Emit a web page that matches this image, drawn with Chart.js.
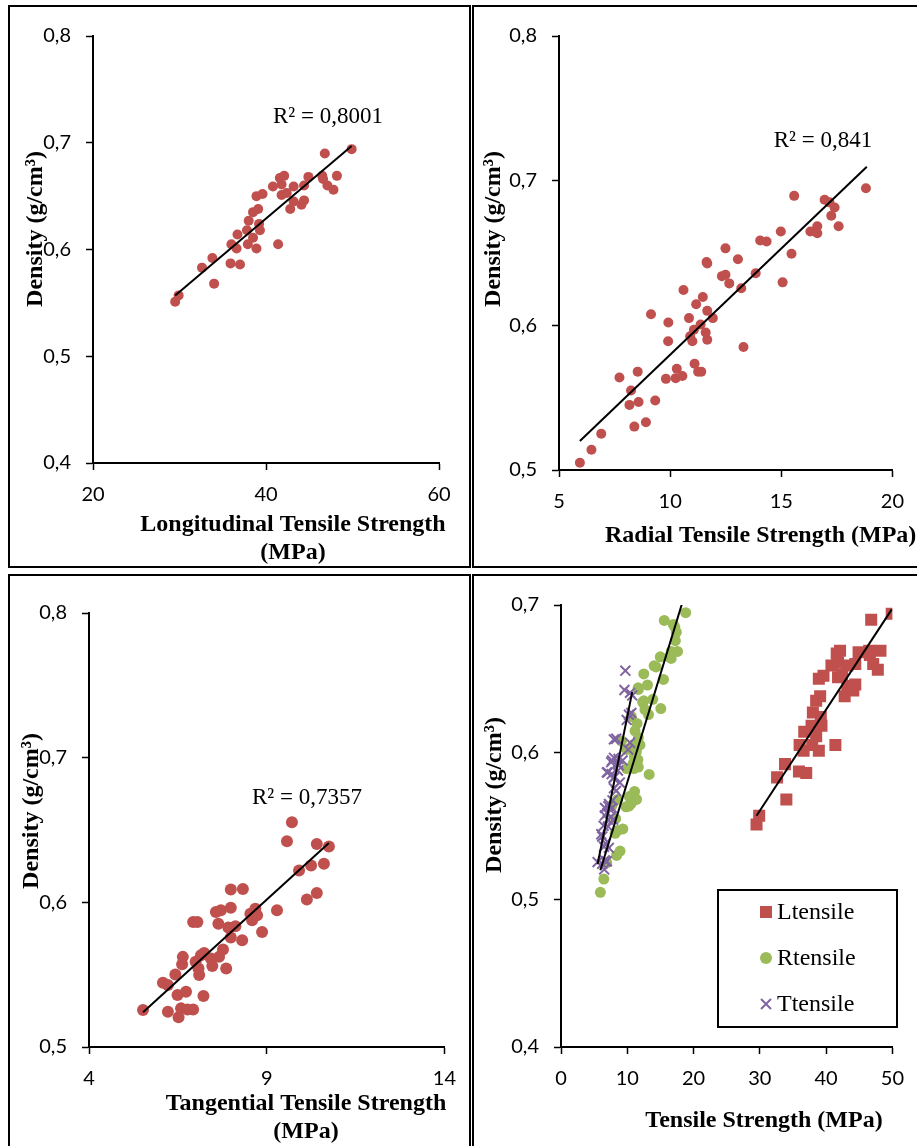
<!DOCTYPE html>
<html lang="en">
<head>
    <meta charset="UTF-8" />
    <title>Density vs Tensile Strength</title>
    <script src="https://cdn.jsdelivr.net/npm/chart.js"></script>
    <style>
        body {
          margin: 0;
          background: #fff;
        }

        #page {
          position: relative;
          width: 917px;
          height: 1146px;
          overflow: hidden;
        }

        .panel {
          position: absolute;
          border: 2px solid #000;
          box-sizing: border-box;
        }

        canvas {
          position: absolute;
        }
    </style>
</head>
<body>

<div id="page">
    <div class="panel" style="left:8px;top:5px;width:463px;height:563px"></div>
    <div class="panel" style="left:472px;top:5px;width:460px;height:563px"></div>
    <div class="panel" style="left:8px;top:574px;width:463px;height:590px"></div>
    <div class="panel" style="left:472px;top:574px;width:460px;height:590px"></div>

    <canvas id="chartL" width="459" height="557" style="left:10px;top:9px"></canvas>
    <canvas id="chartR" width="442" height="557" style="left:475px;top:9px"></canvas>
    <canvas id="chartT" width="459" height="570" style="left:10px;top:576px"></canvas>
    <canvas id="chartAll" width="442" height="570" style="left:475px;top:576px"></canvas>
</div>

<script>
    // Longitudinal tensile strength (MPa) vs density (g/cm3)
    const lStrength = [29.5, 29.9, 32.6, 33.8, 34.0, 35.9, 37.0, 36.0, 36.6, 36.7,
      37.9, 37.8, 38.0, 38.5, 38.9, 38.5, 39.1, 39.2, 39.3, 38.9,
      39.6, 41.4, 40.8, 41.6, 42.1, 41.8, 41.8, 42.4, 43.2, 42.8,
      43.2, 44.1, 44.4, 44.4, 44.9, 46.5, 46.6, 47.1, 47.8, 48.2,
      46.8, 49.9];
    const lDensity = [0.551, 0.557, 0.583, 0.592, 0.568, 0.587, 0.586, 0.605, 0.601, 0.614,
      0.605, 0.618, 0.627, 0.611, 0.601, 0.635, 0.638, 0.624, 0.618, 0.650,
      0.652, 0.605, 0.659, 0.667, 0.669, 0.661, 0.651, 0.653, 0.659, 0.638,
      0.645, 0.642, 0.646, 0.660, 0.668, 0.669, 0.666, 0.660, 0.656, 0.669,
      0.690, 0.694];

    // Radial
    const rStrength = [5.94, 6.46, 6.9, 8.39, 8.91, 8.17, 8.58, 9.33, 8.24, 7.72,
      8.54, 9.81, 10.25, 10.55, 10.3, 11.1, 11.26, 11.4, 13.3, 9.91,
      11.0, 11.67, 11.6, 10.9, 11.07, 11.37, 11.92, 10.85, 9.92, 9.14,
      11.67, 11.17, 11.47, 10.6, 13.2, 12.66, 12.33, 12.49, 13.85, 15.06,
      11.64, 11.67, 13.05, 12.49, 15.46, 14.05, 14.34, 14.98, 16.31, 16.62,
      16.62, 17.58, 17.25, 17.4, 16.95, 17.17, 15.58, 18.81];
    const rDensity = [0.505, 0.514, 0.525, 0.530, 0.533, 0.545, 0.547, 0.548, 0.555, 0.564,
      0.568, 0.563, 0.5635, 0.565, 0.570, 0.5735, 0.568, 0.568, 0.585, 0.589,
      0.589, 0.590, 0.595, 0.5925, 0.597, 0.6005, 0.605, 0.605, 0.602, 0.6077,
      0.610, 0.6146, 0.6196, 0.6244, 0.6256, 0.629, 0.634, 0.635, 0.636, 0.6297,
      0.6438, 0.6427, 0.6457, 0.6532, 0.6495, 0.6587, 0.658, 0.6648, 0.6648, 0.6685,
      0.6637, 0.6685, 0.6758, 0.6815, 0.6868, 0.685, 0.6895, 0.6948];

    // Tangential
    const tStrength = [5.52, 6.22, 6.52, 6.59, 6.77, 6.93, 6.49, 6.73, 7.22, 6.08,
      6.22, 6.43, 7.1, 6.62, 6.64, 7.0, 7.08, 7.15, 7.24, 7.47,
      7.43, 7.66, 7.77, 7.86, 7.99, 7.92, 8.12, 8.31, 7.64, 7.57,
      7.71, 7.99, 6.93, 7.05, 8.54, 8.68, 8.59, 8.73, 8.87, 9.29,
      7.99, 8.33, 10.13, 10.41, 9.91, 10.25, 10.61, 10.41, 10.75, 9.57,
      9.71];
    const tDensity = [0.5255, 0.5243, 0.5205, 0.5267, 0.526, 0.526, 0.5359, 0.5382, 0.5352, 0.5444,
      0.5428, 0.5501, 0.5497, 0.5572, 0.5623, 0.5589, 0.5543, 0.5634, 0.565, 0.556,
      0.5611, 0.5623, 0.5674, 0.5543, 0.5757, 0.5826, 0.5834, 0.5738, 0.5852, 0.5933,
      0.5945, 0.5963, 0.5864, 0.5864, 0.5921, 0.5955, 0.5876, 0.591, 0.5795, 0.5945,
      0.6088, 0.6092, 0.6019, 0.6065, 0.622, 0.6255, 0.6267, 0.6404, 0.6386, 0.6423,
      0.6554];

    // linear trendline end points
    const lTrendX = [29.5, 49.9];
    const lTrendY = [0.557, 0.697];
    const rTrendX = [5.94, 18.85];
    const rTrendY = [0.520, 0.7096];
    const tTrendX = [5.52, 10.75];
    const tTrendY = [0.524, 0.641];

    const rSquared = ['R² = 0,8001', 'R² = 0,841', 'R² = 0,7357'];
    const seriesNames = ['Ltensile', 'Rtensile', 'Ttensile'];

    const RED = '#C0504D';
    const GREEN = '#9BBB59';
    const PURPLE = '#8064A2';
    const SERIF = '"Liberation Serif", "Times New Roman", serif';
    const TITLE_FONT = 'bold 24px ' + SERIF;

    function zip(xs, ys) {
      return xs.map((x, i) => ({ x: x, y: ys[i] }));
    }

    function trend(xs, ys) {
      return {
        data: zip(xs, ys),
        showLine: true,
        borderColor: '#000',
        borderWidth: 2,
        pointRadius: 0,
        order: 0
      };
    }

    function scatter(label, xs, ys, color, style, radius, order) {
      return {
        label: label,
        data: zip(xs, ys),
        pointStyle: style,
        pointRadius: radius,
        pointBackgroundColor: color,
        pointBorderColor: color,
        pointBorderWidth: style === 'crossRot' ? 2 : 0,
        showLine: false,
        order: order,
        inLegend: true
      };
    }

    function axes(x, y, xHeight, yWidth) {
      const tickFont = { family: 'Lato', size: 20 };
      const grid = { drawOnChartArea: false, tickLength: 7, tickColor: '#000', tickWidth: 1.5 };
      const border = { color: '#000', width: 2 };
      return {
        x: {
          type: 'linear', min: x[0], max: x[1],
          ticks: { stepSize: x[2], color: '#000', font: tickFont, padding: 13, autoSkip: false, maxRotation: 0 },
          grid: grid, border: border,
          afterFit: s => { s.height = xHeight; }
        },
        y: {
          type: 'linear', min: y[0], max: y[1],
          ticks: {
            stepSize: y[2], color: '#000', font: tickFont, padding: 15, autoSkip: false,
            callback: v => v.toFixed(1).replace('.', ',')
          },
          grid: grid, border: border,
          afterFit: s => { s.width = yWidth; }
        }
      };
    }

    // draws axis titles, R² labels and the boxed legend
    function notes(texts, legend) {
      return {
        id: 'notes',
        afterDraw(chart) {
          const ctx = chart.ctx;
          texts.forEach(t => {
            ctx.save();
            ctx.font = t.font;
            ctx.fillStyle = '#000';
            ctx.textAlign = t.align || 'center';
            ctx.textBaseline = 'middle';
            ctx.translate(t.x, t.y);
            if (t.rotate) ctx.rotate(-Math.PI / 2);
            ctx.fillText(t.text, 0, 0);
            ctx.restore();
          });

          if (!legend) return;
          ctx.save();
          ctx.strokeStyle = '#000';
          ctx.lineWidth = 2;
          ctx.strokeRect(legend.x, legend.y, legend.w, legend.h);
          ctx.font = '24px ' + SERIF;
          ctx.textAlign = 'left';
          ctx.textBaseline = 'middle';
          const items = chart.data.datasets.filter(d => d.inLegend);
          items.forEach((d, i) => {
            const mx = legend.markerX;
            const my = legend.rows[i];
            ctx.fillStyle = d.pointBackgroundColor;
            ctx.strokeStyle = d.pointBorderColor;
            if (d.pointStyle === 'rect') {
              ctx.fillRect(mx - 6, my - 6, 12, 12);
            } else if (d.pointStyle === 'circle') {
              ctx.beginPath();
              ctx.arc(mx, my, 6, 0, Math.PI * 2);
              ctx.fill();
            } else {
              ctx.lineWidth = 2;
              ctx.beginPath();
              ctx.moveTo(mx - 5, my - 5); ctx.lineTo(mx + 5, my + 5);
              ctx.moveTo(mx + 5, my - 5); ctx.lineTo(mx - 5, my + 5);
              ctx.stroke();
            }
            ctx.fillStyle = '#000';
            ctx.fillText(d.label, legend.textX, my + 1);
          });
          ctx.restore();
        }
      };
    }

    function makeChart(id, datasets, scales, padding, texts, legend) {
      return new Chart(document.getElementById(id), {
        type: 'scatter',
        data: { datasets: datasets },
        options: {
          responsive: false,
          animation: false,
          layout: { padding: padding },
          plugins: { legend: { display: false }, tooltip: { enabled: false } },
          scales: scales
        },
        plugins: [notes(texts, legend)]
      });
    }

    makeChart('chartL',
      [trend(lTrendX, lTrendY), scatter(seriesNames[0], lStrength, lDensity, RED, 'circle', 5, 1)],
      axes([20, 60, 20], [0.4, 0.8, 0.1], 103, 83),
      { top: 24, right: 30, left: 0, bottom: 0 },
      [
        { text: 'Density (g/cm³)', x: 26, y: 220, font: TITLE_FONT, rotate: true },
        { text: 'Longitudinal Tensile Strength', x: 283, y: 516, font: TITLE_FONT },
        { text: '(MPa)', x: 283, y: 544, font: TITLE_FONT },
        { text: rSquared[0], x: 318, y: 108, font: '23px ' + SERIF }
      ]);

    makeChart('chartR',
      [trend(rTrendX, rTrendY), scatter(seriesNames[1], rStrength, rDensity, RED, 'circle', 5, 1)],
      axes([5, 20, 5], [0.5, 0.8, 0.1], 96, 84),
      { top: 24, right: 22, left: 0, bottom: 0 },
      [
        { text: 'Density (g/cm³)', x: 19, y: 220, font: TITLE_FONT, rotate: true },
        { text: 'Radial Tensile Strength (MPa)', x: 130, y: 527, font: TITLE_FONT, align: 'left' },
        { text: rSquared[1], x: 348, y: 132, font: '23px ' + SERIF }
      ]);

    makeChart('chartT',
      [trend(tTrendX, tTrendY), scatter(seriesNames[2], tStrength, tDensity, RED, 'circle', 6, 1)],
      axes([4, 14, 5], [0.5, 0.8, 0.1], 99, 79),
      { top: 37, right: 23, left: 0, bottom: 0 },
      [
        { text: 'Density (g/cm³)', x: 22, y: 235, font: TITLE_FONT, rotate: true },
        { text: 'Tangential Tensile Strength', x: 296, y: 528, font: TITLE_FONT },
        { text: '(MPa)', x: 296, y: 556, font: TITLE_FONT },
        { text: rSquared[2], x: 297, y: 222, font: '23px ' + SERIF }
      ]);

    makeChart('chartAll',
      [
        trend(lTrendX, lTrendY),
        trend(rTrendX, rTrendY),
        trend(tTrendX, tTrendY),
        scatter(seriesNames[0], lStrength, lDensity, RED, 'rect', 8.5, 3),
        scatter(seriesNames[1], rStrength, rDensity, GREEN, 'circle', 5.5, 2),
        scatter(seriesNames[2], tStrength, tDensity, PURPLE, 'crossRot', 7, 1)
      ],
      axes([0, 50, 10], [0.4, 0.7, 0.1], 99, 86),
      { top: 29, right: 22, left: 0, bottom: 0 },
      [
        { text: 'Density (g/cm³)', x: 20, y: 219, font: TITLE_FONT, rotate: true },
        { text: 'Tensile Strength (MPa)', x: 289, y: 545, font: TITLE_FONT }
      ],
      { x: 243, y: 314, w: 179, h: 137, markerX: 291, textX: 302, rows: [336, 382, 428] });
</script>

</body>
</html>
